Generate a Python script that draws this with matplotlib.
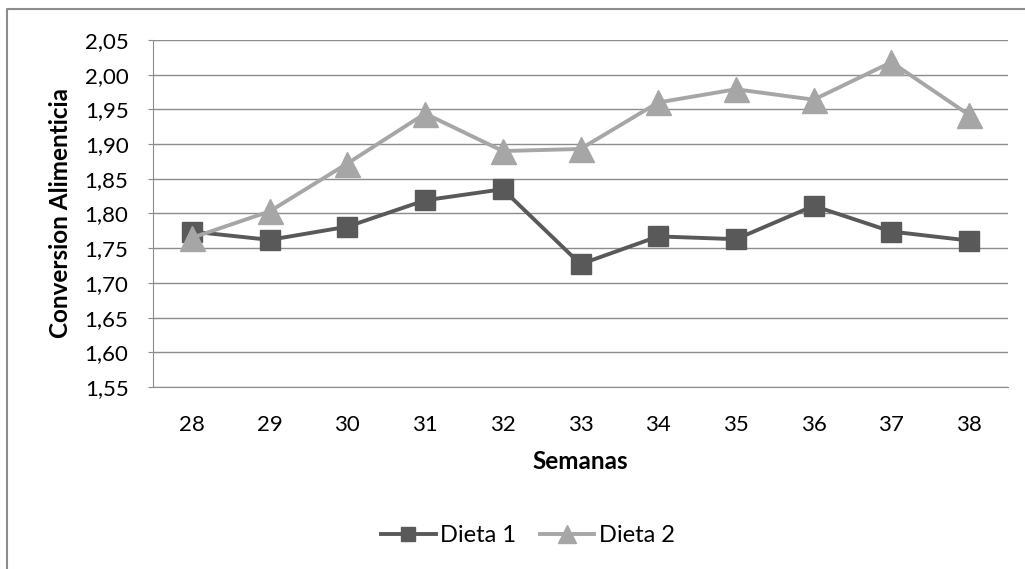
import matplotlib
matplotlib.use("Agg")
import matplotlib.pyplot as plt
from matplotlib.lines import Line2D
from matplotlib.ticker import FuncFormatter

# data
semanas = [28, 29, 30, 31, 32, 33, 34, 35, 36, 37, 38]
dieta1 = [1.774, 1.762, 1.781, 1.819, 1.835, 1.727, 1.767, 1.763, 1.811, 1.774, 1.761]
dieta2 = [1.765, 1.803, 1.872, 1.944, 1.890, 1.893, 1.960, 1.979, 1.964, 2.018, 1.942]
yticks = [1.55, 1.60, 1.65, 1.70, 1.75, 1.80, 1.85, 1.90, 1.95, 2.00, 2.05]

plt.rcParams['font.family'] = ['Lato', 'DejaVu Sans']

W, H = 1025, 569
fig = plt.figure(figsize=(W / 100, H / 100), dpi=100)
ax = fig.add_axes([153 / W, 1 - 387 / H, (1008 - 153) / W, (387 - 40) / H])

# outer chart border (only left and top edges are inside the picture)
fig.lines.append(Line2D([7 / W, 7 / W, 1], [0, 1 - 9 / H, 1 - 9 / H],
                        transform=fig.transFigure, color='#8c8c8c', linewidth=1.5))

ax.plot(semanas, dieta1, color='#595959', linewidth=2.8, marker='s',
        markersize=15, label='Dieta 1', zorder=3)
ax.plot(semanas, dieta2, color='#a6a6a6', linewidth=2.8, marker='^',
        markersize=18, label='Dieta 2', zorder=4)

ax.set_xlim(27.5, 38.5)
ax.set_ylim(1.55, 2.05)
ax.set_xticks(semanas)
ax.set_yticks(yticks)
ax.yaxis.set_major_formatter(FuncFormatter(lambda v, p: f'{v:.2f}'.replace('.', ',')))
ax.grid(axis='y', color='#8c8c8c', linewidth=1)
ax.set_axisbelow(True)

for s in ['top', 'right']:
    ax.spines[s].set_visible(False)
ax.spines['left'].set_color('#8c8c8c')
ax.spines['bottom'].set_color('#8c8c8c')
ax.tick_params(axis='y', length=3.6, color='#8c8c8c', labelsize=16, pad=14)
ax.tick_params(axis='x', length=0, labelsize=16, pad=20)

ax.set_xlabel('Semanas', fontsize=17.5, fontweight='bold', labelpad=11)
ax.set_ylabel('Conversion Alimenticia', fontsize=17.5, fontweight='bold', labelpad=9)

fig.legend(loc='center', bbox_to_anchor=(528 / W, 1 - 536 / H), ncol=2,
           frameon=False, fontsize=17, handlelength=2.3, columnspacing=1.0,
           handletextpad=0.2, markerscale=0.7)

fig.savefig('out.png', dpi=100)
